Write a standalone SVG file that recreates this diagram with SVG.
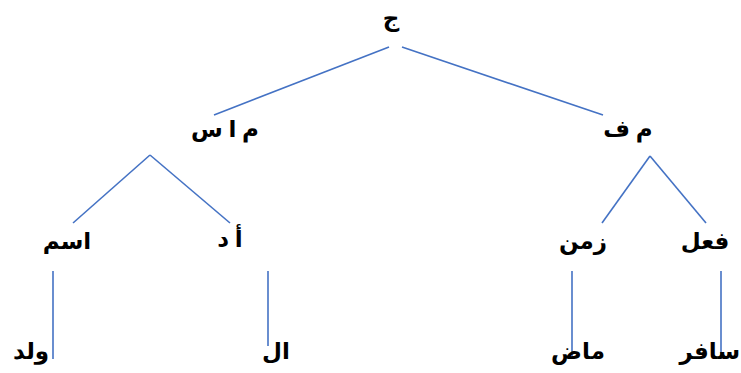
<svg xmlns="http://www.w3.org/2000/svg" width="741" height="373" viewBox="0 0 741 373">
<style>
text{font-family:"Liberation Serif","DejaVu Sans",serif;font-weight:bold;font-size:23px;fill:#000;text-anchor:middle}
.c line{stroke:#4472C4;stroke-width:1.6}
</style>
<rect width="741" height="373" fill="#fff"/>
<g class="c" id="connectors">
<line x1="389" y1="47" x2="214" y2="115"/>
<line x1="402" y1="47" x2="603" y2="115"/>
<line x1="150" y1="155" x2="73" y2="223"/>
<line x1="150" y1="155" x2="230" y2="223"/>
<line x1="650" y1="156" x2="602" y2="223"/>
<line x1="650" y1="156" x2="706" y2="223"/>
<line x1="53" y1="271" x2="53" y2="359"/>
<line x1="268" y1="271" x2="268" y2="346"/>
<line x1="572" y1="271" x2="572" y2="358"/>
<line x1="721" y1="271" x2="721" y2="358"/>
</g>
<g id="n_j"><text x="391" y="26">ج</text></g>
<g id="n_mas"><text x="225" y="137">م ا س</text></g>
<g id="n_mf"><text x="628" y="137">م ف</text></g>
<g id="n_ism"><text x="67" y="249">اسم</text></g>
<g id="n_ad"><text x="230" y="247">أ د</text></g>
<g id="n_zaman"><text x="583" y="249">زمن</text></g>
<g id="n_fial"><text x="705" y="249">فعل</text></g>
<g id="n_walad"><text x="31" y="359">ولد</text></g>
<g id="n_al"><text x="276" y="359">ال</text></g>
<g id="n_madi"><text x="578" y="359">ماض</text></g>
<g id="n_safar"><text x="740" y="359" style="text-anchor:end">سافر</text></g>
</svg>
